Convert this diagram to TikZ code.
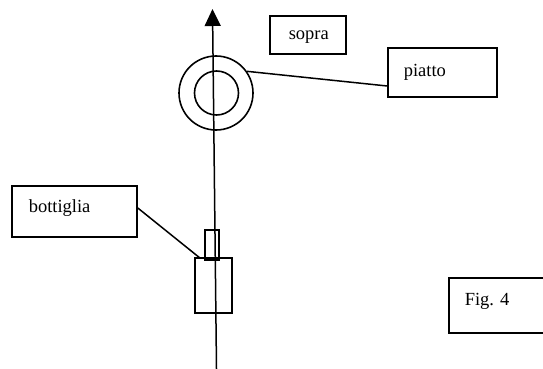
\documentclass[tikz,border=0pt]{standalone}
\usepackage{fontspec}
\setmainfont{Liberation Serif}
\usetikzlibrary{arrows.meta}
\begin{document}
\begin{tikzpicture}[x=1pt,y=-1pt,
  line width=1.5pt,
  box/.style={draw, rectangle, inner sep=0pt, line width=1.6pt},
  ring/.style={draw, circle, inner sep=0pt, line width=1.6pt},
  lbl/.style={anchor=base west, inner sep=0pt, font=\fontsize{18.5}{20}\selectfont},
  axisarrow/.style={-{Triangle[width=16pt,length=17pt]}}]
\useasboundingbox (0,0) rectangle (543,369);

% vertical axis
\coordinate (axbot) at (216.5,369);
\coordinate (axtop) at (212.5,9);
\draw[axisarrow] (axbot) -- (axtop);

% plate seen from above
\node[ring, minimum size=74pt] (outer) at (216,93) {};
\node[ring, minimum size=44pt] (inner) at (216.5,93) {};

% bottle: neck and body
\node[box, minimum width=14pt, minimum height=30pt] (neck) at (212,245) {};
\node[box, minimum width=37pt, minimum height=55pt] (body) at (213.5,285.5) {};

% label boxes
\node[box, minimum width=76pt, minimum height=38pt] (sopra) at (308,35) {};
\node[box, minimum width=109pt, minimum height=49pt] (piatto) at (442.5,72.5) {};
\node[box, minimum width=125pt, minimum height=51pt] (bott) at (74.5,211.5) {};
\node[box, minimum width=96pt, minimum height=55pt] (fig) at (497,305.5) {};

% texts
\node[lbl] (tsopra) at (288,40) {sopra};
\node[lbl] (tpiatto) at (403,76) {piatto};
\node[lbl] (tbott) at (28,212) {bottiglia};
\node[lbl] (tfig) at (464,305) {Fig. 4};

% leader lines
\draw (outer.35) -- ([yshift=-13.5pt]piatto.west);
\draw ([yshift=3.5pt]bott.east) -- ([xshift=6pt,yshift=-1pt]body.north west);
\end{tikzpicture}
\end{document}
